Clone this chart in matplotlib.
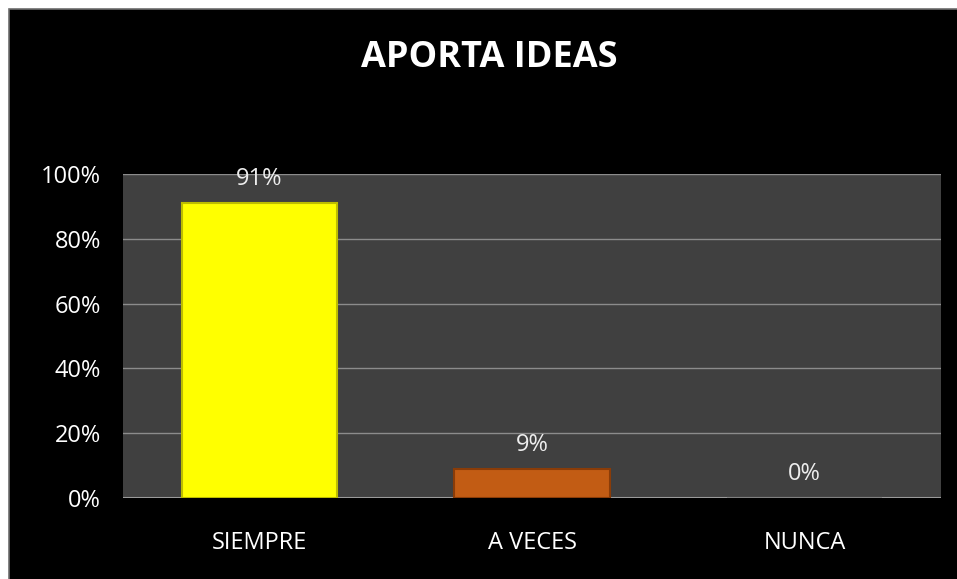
import matplotlib.pyplot as plt
from matplotlib.patches import Rectangle

categories = ["SIEMPRE", "A VECES", "NUNCA"]
values = [91, 9, 0]
bar_colors = ["#FFFF00", "#C25C14", "#7F7F7F"]
edge_colors = ["#BDBD00", "#8A3C08", "#7F7F7F"]
y_ticks = [0, 20, 40, 60, 80, 100]

plt.rcParams["font.family"] = ["Open Sans", "DejaVu Sans"]

fig = plt.figure(figsize=(9.57, 5.79), dpi=100, facecolor="white")
W, H = 957, 579
# black chart area with thin gray border (left/top only visible), kept behind the axes
fig.patches.append(Rectangle((9 / W, -0.05), 1.1, 1.05 - 9 / H, transform=fig.transFigure,
                             facecolor="black", edgecolor="#6E6E6E", linewidth=1.2, zorder=-10))

ax = fig.add_axes([123 / W, 81 / H, 818 / W, 324 / H])
ax.set_facecolor("#404040")
x = range(len(categories))
bars = ax.bar(x, values, width=0.57, color=bar_colors, edgecolor=edge_colors, linewidth=1.5, zorder=3)
for b, v in zip(bars, values):
    ax.text(b.get_x() + b.get_width() / 2, v + 7.5, f"{v}%", ha="center", va="center",
            color="#EDEDED", fontsize=17, zorder=4)

ax.set_xlim(-0.5, 2.5)
ax.set_ylim(0, 100)
ax.set_yticks(y_ticks)
ax.set_yticklabels([f"{t}%" for t in y_ticks])
ax.set_xticks(list(x))
ax.set_xticklabels(categories)
ax.grid(axis="y", color="#8C8C8C", linewidth=1, zorder=1)
ax.set_axisbelow(True)
ax.tick_params(colors="white", labelsize=17, length=0, pad=16)
ax.tick_params(axis="x", pad=24)
for s in ax.spines.values():
    s.set_visible(False)
ax.axhline(0, color="#9A9A9A", linewidth=1.5, zorder=2)

fig.text(489 / W, 1 - 58 / H, "APORTA IDEAS", ha="center", va="center",
         color="white", fontsize=26, fontweight="bold")

fig.savefig("out.png", dpi=100, facecolor="white")
